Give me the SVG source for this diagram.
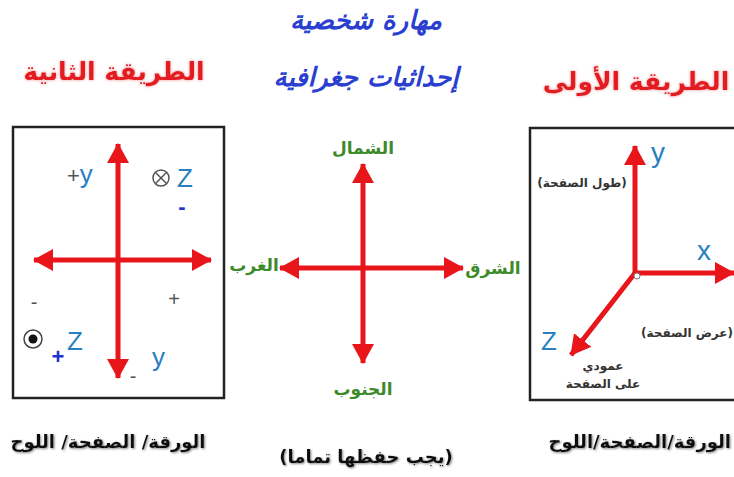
<svg xmlns="http://www.w3.org/2000/svg" width="734" height="477" viewBox="0 0 734 477">
<defs>
<marker id="ah" viewBox="0 0 20 22" refX="19" refY="11" markerWidth="20" markerHeight="22" markerUnits="userSpaceOnUse" orient="auto-start-reverse">
<path d="M0,0 L20,11 L0,22 z" fill="#e8151b"/>
</marker>
<filter id="glow" x="-10%" y="-30%" width="120%" height="160%">
<feGaussianBlur in="SourceAlpha" stdDeviation="1.6" result="b"/>
<feFlood flood-color="#f28a8a"/>
<feComposite in2="b" operator="in" result="g"/>
<feMerge><feMergeNode in="g"/><feMergeNode in="SourceGraphic"/></feMerge>
</filter>
<filter id="shadow" x="-10%" y="-30%" width="120%" height="160%">
<feGaussianBlur in="SourceAlpha" stdDeviation="1.2" result="b"/>
<feOffset dx="1" dy="1" in="b" result="o"/>
<feFlood flood-color="#888"/>
<feComposite in2="o" operator="in" result="g"/>
<feMerge><feMergeNode in="g"/><feMergeNode in="SourceGraphic"/></feMerge>
</filter>
</defs>
<style>
.ax{stroke:#e8151b;stroke-width:5;fill:none}
.box{fill:#fff;stroke:#222;stroke-width:2.5}
.lat{font-family:"Liberation Sans",Arial,sans-serif;fill:#2a7fbf}
.sign{font-family:"Liberation Sans",Arial,sans-serif;fill:#555;font-size:20px}
.bsign{font-family:"Liberation Sans",Arial,sans-serif;fill:#2233cc;font-size:22px;font-weight:bold}
.ttl{font-family:"DejaVu Sans",sans-serif;font-weight:bold;fill:#e31b23;font-size:25px}
.blue{font-family:"DejaVu Sans",sans-serif;font-weight:bold;font-style:italic;fill:#2a3fd0;font-size:26px}
.grn{font-family:"DejaVu Sans",sans-serif;font-weight:bold;fill:#3d8a2a;font-size:17px}
.sm{font-family:"DejaVu Sans",sans-serif;font-weight:bold;fill:#333;font-size:12px}
.bot{font-family:"DejaVu Sans",sans-serif;font-weight:bold;fill:#111;font-size:18px}
</style>
<rect width="734" height="477" fill="#fff"/>

<g id="titles">
<text class="blue" x="366" y="29" text-anchor="middle">مهارة شخصية</text>
<text class="blue" x="366" y="86" text-anchor="middle" font-size="28">إحداثيات جغرافية</text>
<text class="ttl" x="114" y="80" text-anchor="middle" filter="url(#glow)">الطريقة الثانية</text>
<text class="ttl" x="636" y="90" text-anchor="middle" filter="url(#glow)">الطريقة الأولى</text>
</g>

<g id="box-second">
<rect class="box" x="13" y="127" width="211" height="271"/>
<text class="lat" x="67" y="183" font-size="26" text-anchor="start"><tspan fill="#555" font-size="22">+</tspan>y</text>
<g stroke="#555" stroke-width="1.5" fill="none">
<circle cx="161" cy="178" r="8"/>
<line x1="155.3" y1="172.3" x2="166.7" y2="183.7"/>
<line x1="166.7" y1="172.3" x2="155.3" y2="183.7"/>
</g>
<text class="lat" x="177" y="187" font-size="26">Z</text>
<text class="bsign" x="182" y="214" text-anchor="middle">-</text>
<text class="sign" x="174" y="306" text-anchor="middle">+</text>
<text class="sign" x="34" y="309" text-anchor="middle">-</text>
<circle cx="33" cy="339" r="9" fill="none" stroke="#444" stroke-width="1.5"/>
<circle cx="33" cy="339" r="4.5" fill="#111"/>
<text class="bsign" x="58" y="364" text-anchor="middle">+</text>
<text class="lat" x="67" y="350" font-size="26">Z</text>
<text class="sign" x="133" y="383" text-anchor="middle" font-size="16">-</text>
<text class="lat" x="152" y="366" font-size="26">y</text>
</g>

<g id="compass">
<text class="grn" x="363" y="154" text-anchor="middle">الشمال</text>
<text class="grn" x="363" y="395" text-anchor="middle">الجنوب</text>
<text class="grn" x="254" y="271" text-anchor="middle">الغرب</text>
<text class="grn" x="493" y="274" text-anchor="middle">الشرق</text>
</g>

<g id="box-first">
<rect class="box" x="530" y="128" width="210" height="272"/>
<text class="lat" x="651" y="162" font-size="28">y</text>
<text class="lat" x="697" y="260" font-size="28">x</text>
<text class="lat" x="541" y="350" font-size="26">Z</text>
<text class="sm" x="582" y="187" text-anchor="middle">(طول الصفحة)</text>
<text class="sm" x="687" y="337" text-anchor="middle">(عرض الصفحة)</text>
<text class="sm" x="603" y="370" text-anchor="middle">عمودي</text>
<text class="sm" x="603" y="388" text-anchor="middle">على الصفحة</text>
</g>

<g id="connectors">
<line class="ax" x1="118" y1="144" x2="118" y2="378" marker-start="url(#ah)" marker-end="url(#ah)"/>
<line class="ax" x1="34" y1="260" x2="211" y2="260" marker-start="url(#ah)" marker-end="url(#ah)"/>
<line class="ax" x1="363" y1="164" x2="363" y2="363" marker-start="url(#ah)" marker-end="url(#ah)"/>
<line class="ax" x1="280" y1="268" x2="463" y2="268" marker-start="url(#ah)" marker-end="url(#ah)"/>
<line class="ax" x1="635" y1="273" x2="635" y2="146" marker-end="url(#ah)"/>
<line class="ax" x1="635" y1="273" x2="734" y2="273" marker-end="url(#ah)"/>
<line class="ax" x1="635" y1="273" x2="571" y2="355" marker-end="url(#ah)"/>
<circle cx="637" cy="276" r="3" fill="#fff" stroke="#777" stroke-width="1"/>
</g>

<g id="captions">
<text class="bot" x="108" y="448" text-anchor="middle" filter="url(#shadow)">الورقة/ الصفحة/ اللوح</text>
<text class="bot" x="366" y="463" text-anchor="middle" filter="url(#shadow)">(يجب حفظها تماما)</text>
<text class="bot" x="731" y="448" text-anchor="end" filter="url(#shadow)">الورقة/الصفحة/اللوح</text>
</g>
</svg>
